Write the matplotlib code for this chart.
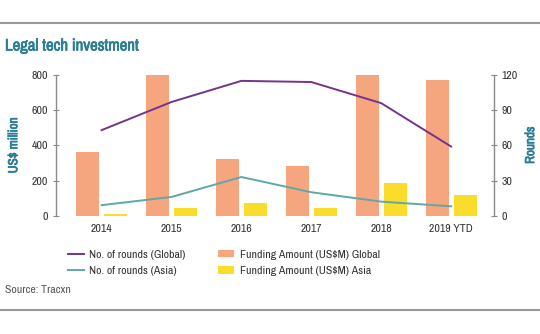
import numpy as np
import matplotlib

matplotlib.use('Agg')
import matplotlib.pyplot as plt
import matplotlib.patheffects as pe
from matplotlib.lines import Line2D
from matplotlib.patches import Patch
from matplotlib import font_manager

years = ['2014', '2015', '2016', '2017', '2018', '2019 YTD']
funding_global = [365, 800, 322, 280, 800, 770]
funding_asia = [10, 45, 75, 44, 185, 120]
rounds_global = [73, 97, 115, 114, 96, 59]
rounds_asia = [9, 16, 33, 20, 12, 8]

ORANGE = '#F5A67F'
YELLOW = '#FADC2A'
PURPLE = '#74348A'
TEAL = '#5FA8A8'
TITLE_C = '#2A7D92'
TEXT_C = '#333333'
SPINE_C = '#8a8a8a'

names = sorted({f.name for f in font_manager.fontManager.ttflist})
if 'Liberation Sans Narrow' in names:
    narrow = ['Liberation Sans Narrow']
else:
    narrow = [n for n in names if 'Narrow' in n or 'Condensed' in n][:1]

plt.rcParams['font.family'] = narrow + ['DejaVu Sans']

# fake a heavier weight for the teal headings
heavy = [pe.withStroke(linewidth=0.5, foreground=TITLE_C)]

fig = plt.figure(figsize=(5.4, 3.34), dpi=100)
fig.patch.set_facecolor('white')

ax = fig.add_axes([56 / 540, 1 - 215.7 / 334, (494 - 56) / 540, (215.7 - 75) / 334])
ax2 = ax.twinx()

x = np.arange(len(years))
w = 0.33
ax.bar(x - 0.2, funding_global, width=w, color=ORANGE, zorder=2)
ax.bar(x + 0.2, funding_asia, width=w, color=YELLOW, zorder=2)
ax2.plot(x, rounds_global, color=PURPLE, lw=1.4, zorder=3)
ax2.plot(x, rounds_asia, color=TEAL, lw=1.4, zorder=3)

ax.set_xlim(-0.653, 5.614)
ax.set_ylim(0, 800)
ax2.set_ylim(0, 120)
ax.set_yticks([0, 200, 400, 600, 800])
ax2.set_yticks([0, 30, 60, 90, 120])
ax.set_xticks(x)
ax.set_xticklabels(years)

for a in (ax, ax2):
    for s in ('top', 'bottom'):
        a.spines[s].set_visible(False)
    a.tick_params(axis='y', direction='inout', length=5, width=0.8, color=SPINE_C,
                  labelsize=8.5, labelcolor=TEXT_C, pad=3)
    a.tick_params(axis='x', length=0, labelsize=8.5, labelcolor=TEXT_C, pad=6)
ax.spines['right'].set_visible(False)
ax2.spines['left'].set_visible(False)
ax.spines['left'].set_color(SPINE_C)
ax2.spines['right'].set_color(SPINE_C)
ax.spines['left'].set_linewidth(1.0)
ax2.spines['right'].set_linewidth(1.0)

ax.set_ylabel('US$ million', color=TITLE_C, fontsize=9.5, path_effects=heavy)
ax2.set_ylabel('Rounds', color=TITLE_C, fontsize=9.5, path_effects=heavy)
ax.yaxis.set_label_coords(-0.084, 0.5)
ax2.yaxis.set_label_coords(1.071, 0.5)

fig.text(5 / 540, 1 - 46 / 334, 'Legal tech investment', color=TITLE_C,
         fontsize=12, va='center', ha='left', path_effects=heavy)

# horizontal rules
fig.add_artist(Line2D([0, 1], [1 - 23 / 334, 1 - 23 / 334], color='#999999', lw=1.5))
fig.add_artist(Line2D([0, 1], [1 - 310 / 334, 1 - 310 / 334], color='#999999', lw=1.5))

handles = [
    Line2D([], [], color=PURPLE, lw=1.4),
    Line2D([], [], color=TEAL, lw=1.4),
    Patch(facecolor=ORANGE, edgecolor='none'),
    Patch(facecolor=YELLOW, edgecolor='none'),
]
labels = ['No. of rounds (Global)', 'No. of rounds (Asia)',
          'Funding Amount (US$M) Global', 'Funding Amount (US$M) Asia']
fig.legend(handles, labels, ncol=2, frameon=False, fontsize=8.5,
           loc='upper left', bbox_to_anchor=(57 / 540, 1 - 239 / 334),
           handlelength=1.4, handleheight=0.6, handletextpad=0.45,
           columnspacing=2.7, labelspacing=0.55, labelcolor=TEXT_C)

fig.text(5 / 540, 1 - 290 / 334, 'Source: Tracxn', color='#555555', fontsize=8.5,
         va='center', ha='left')

fig.savefig('out.png', dpi=100)
